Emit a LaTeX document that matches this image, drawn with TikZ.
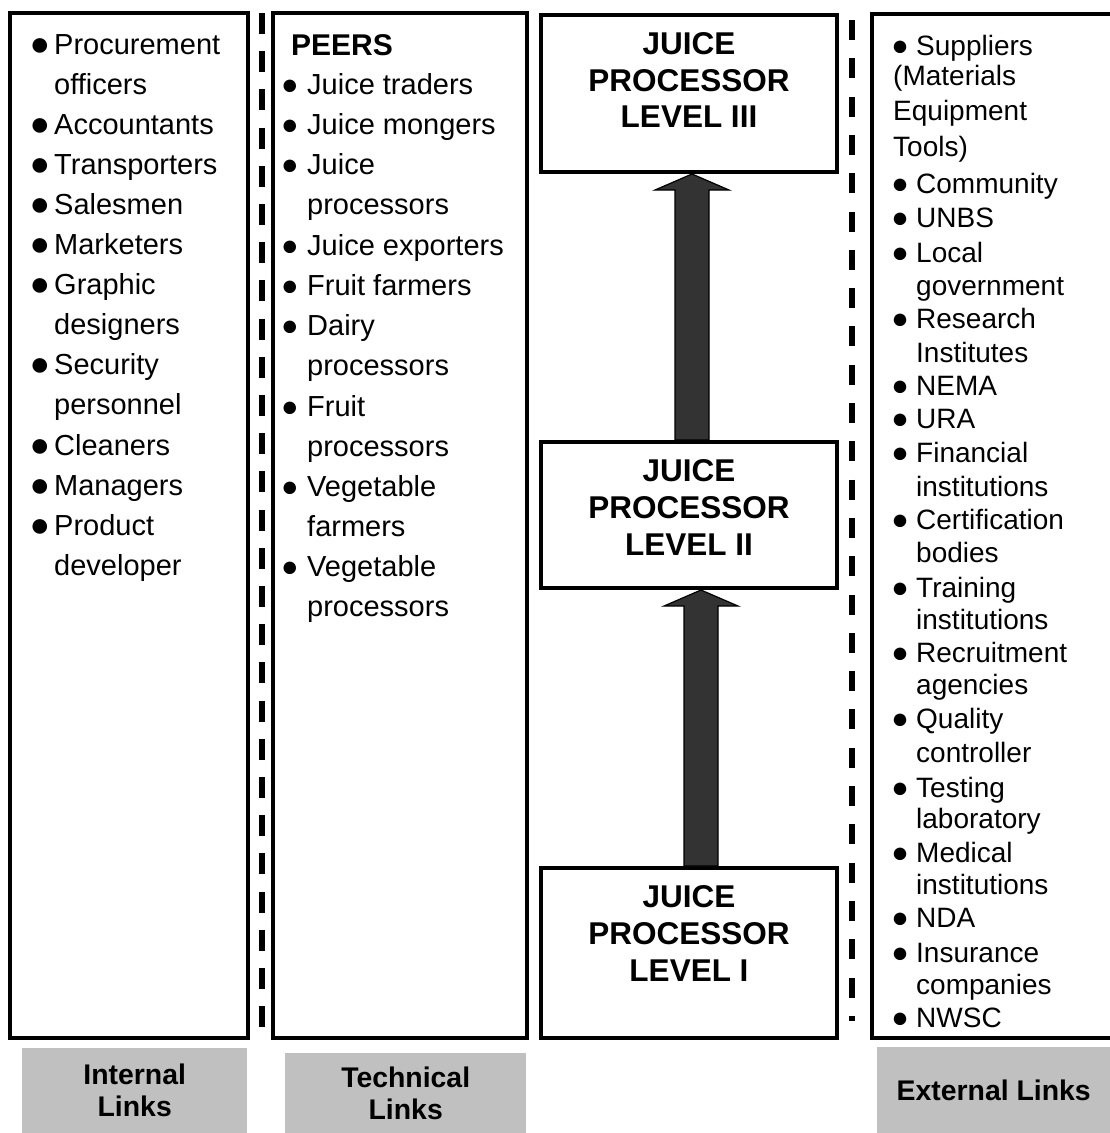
\documentclass[tikz,border=0pt]{standalone}
\usepackage{fontspec}
\setmainfont{Liberation Sans}
\usetikzlibrary{calc}
\usetikzlibrary{positioning}

\definecolor{linkgray}{RGB}{192,192,192}
\definecolor{arrowgray}{RGB}{51,51,51}

\begin{document}
\begin{tikzpicture}[x=1pt, y=-1pt,
  column/.style={draw, line width=4pt, anchor=north west, inner sep=0pt, outer sep=0pt},
  leveltext/.style={align=center, inner sep=0pt, font=\bfseries\fontsize{31.5}{36.7}\selectfont},
  linkbox/.style={fill=linkgray, anchor=north west, inner sep=0pt, align=center,
    font=\bfseries\fontsize{28.4}{32}\selectfont},
  entry/.style={anchor=base west, inner sep=0pt, font=\fontsize{29}{35}\selectfont},
  smallentry/.style={entry, font=\fontsize{28}{33}\selectfont},
  bul/.style={anchor=base, inner sep=0pt, font=\fontsize{29}{29}\selectfont, yshift=-0.4pt},
  bigbul/.style={anchor=base, inner sep=0pt, font=\fontsize{34}{34}\selectfont, yshift=-1.6pt},
  separator/.style={line width=5.5pt},
  blockarrow/.style={fill=arrowgray, draw=black, line width=1.2pt}]

  \useasboundingbox (0,0) rectangle (1110,1133);

  % Column frames
  \node[column, minimum width=238, minimum height=1025] (internal) at (10,13) {};
  \node[column, minimum width=254, minimum height=1025] (technical) at (273,13) {};
  \node[column, minimum width=250, minimum height=1024] (external) at (872,14) {};

  % Processor levels
  \node[column, minimum width=296, minimum height=157] (level3) at (541,15) {};
  \node[column, minimum width=296, minimum height=146] (level2) at (541,442) {};
  \node[column, minimum width=296, minimum height=170] (level1) at (541,868) {};

  \node[leveltext, below=17.4pt of level3.north] (level3txt) {JUICE\\PROCESSOR\\LEVEL III};
  \node[leveltext, below=17.4pt of level2.north] (level2txt) {JUICE\\PROCESSOR\\LEVEL II};
  \node[leveltext, below=17.4pt of level1.north] (level1txt) {JUICE\\PROCESSOR\\LEVEL I};

  % Block arrows between levels
  \foreach \from/\to/\dx in {level2/level3/3, level1/level2/12}
    \draw[blockarrow] ($(\from.north)+(\dx-17,-2)$) -- ($(\to.south)+(\dx-17,18)$)
      -- ($(\to.south)+(\dx-37,18)$) -- ($(\to.south)+(\dx,2)$)
      -- ($(\to.south)+(\dx+37,18)$) -- ($(\to.south)+(\dx+17,18)$)
      -- ($(\from.north)+(\dx+17,-2)$) -- cycle;

  % Dashed separators
  \coordinate (sepLtop) at (262,13);
  \coordinate (sepLbot) at (262,1027);
  \coordinate (sepRtop) at (852,20);
  \coordinate (sepRbot) at (852,1021);
  \draw[separator, dash pattern=on 21pt off 17.2pt] (sepLtop) -- (sepLbot);
  \draw[separator, dash pattern=on 20pt off 18.3pt] (sepRtop) -- (sepRbot);

  % Internal links list
  \foreach \y/\t [count=\i] in {54/Procurement, 94/officers, 134/Accountants,
      174/Transporters, 214/Salesmen, 254/Marketers, 294/Graphic, 334/designers,
      374/Security, 414/personnel, 455/Cleaners, 495/Managers, 535/Product,
      575/developer}
    \node[entry] (int\i) at (54,\y) {\t};
  \foreach \y [count=\i] in {54,134,174,214,254,294,374,455,495,535}
    \node[bigbul] (intbul\i) at (40,\y) {●};

  % Technical links list
  \node[entry, font=\bfseries\fontsize{30}{35}\selectfont] (peers) at (291,55) {PEERS};
  \foreach \y/\t [count=\i] in {94/Juice traders, 134/Juice mongers, 174/Juice,
      214/processors, 255/Juice exporters, 295/Fruit farmers, 335/Dairy,
      375/processors, 416/Fruit, 456/processors, 496/Vegetable, 536/farmers,
      576/Vegetable, 616/processors}
    \node[entry] (tec\i) at (307,\y) {\t};
  \foreach \y [count=\i] in {94,134,174,255,295,335,416,496,576}
    \node[bul] (tecbul\i) at (290,\y) {●};

  % External links list
  \foreach \x/\y/\t [count=\i] in {916/55/Suppliers, 893/85/{(Materials},
      893/120/Equipment, 893/156/{Tools)}, 916/193/Community, 916/227/UNBS,
      916/262/Local, 916/295/government, 916/328/Research, 916/362/Institutes,
      916/395/NEMA, 916/428/URA, 916/462/Financial, 916/496/institutions,
      916/529/Certification, 916/562/bodies, 916/597/Training,
      916/629/institutions, 916/662/Recruitment, 916/694/agencies,
      916/728/Quality, 916/762/controller, 916/797/Testing, 916/828/laboratory,
      916/862/Medical, 916/894/institutions, 916/927/NDA, 916/962/Insurance,
      916/994/companies, 916/1027/NWSC}
    \node[smallentry] (ext\i) at (\x,\y) {\t};
  \foreach \y [count=\i] in {55,193,227,262,328,395,428,462,529,597,662,728,
      797,862,927,962,1027}
    \node[bul] (extbul\i) at (900,\y) {●};

  % Column captions
  \node[linkbox, minimum width=225, minimum height=85] (internallab) at (22,1048) {Internal\\Links};
  \node[linkbox, minimum width=241, minimum height=80] (technicallab) at (285,1053) {Technical\\Links};
  \node[linkbox, minimum width=233, minimum height=86] (externallab) at (877,1047) {External Links};

\end{tikzpicture}
\end{document}
